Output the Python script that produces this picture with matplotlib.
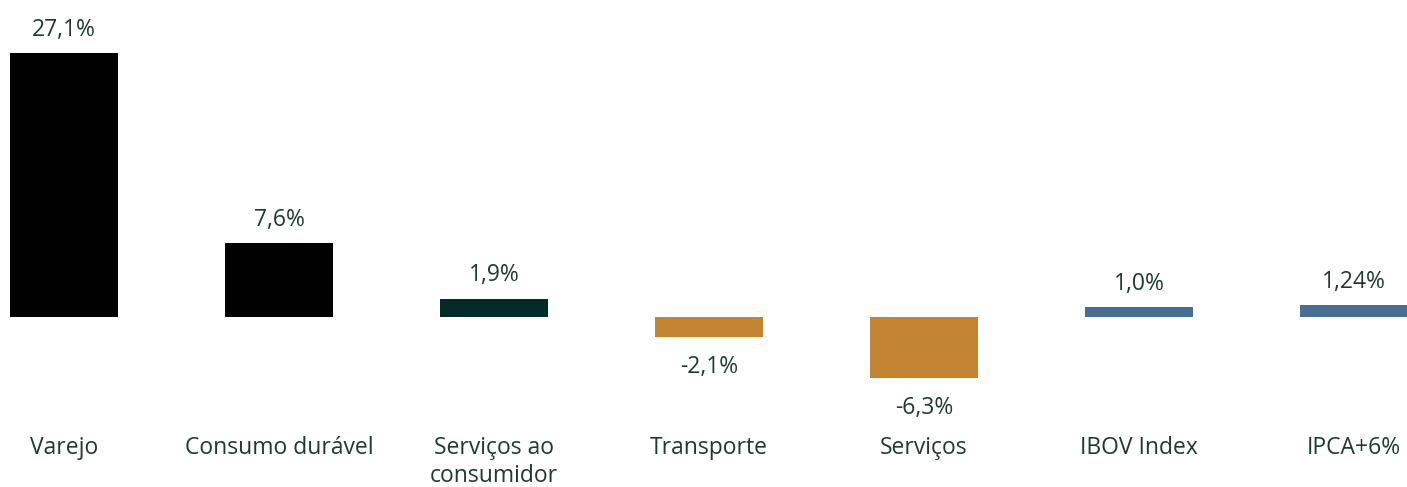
import numpy as np
import matplotlib.pyplot as plt

plt.rcParams['font.family'] = ['Open Sans', 'DejaVu Sans']

categorias = ["Varejo", "Consumo durável", "Serviços ao\nconsumidor", "Transporte",
              "Serviços", "IBOV Index", "IPCA+6%"]
valores = [27.1, 7.6, 1.9, -2.1, -6.3, 1.0, 1.24]
rotulos = ["27,1%", "7,6%", "1,9%", "-2,1%", "-6,3%", "1,0%", "1,24%"]
cores = ["#000000", "#000000", "#022b27", "#c38434", "#c38434", "#466f93", "#466f93"]

txt_cor = "#1f3a33"

fig = plt.figure(figsize=(14.07, 4.87), dpi=100)
ax = fig.add_axes([0, 0, 1, 1])
x = np.arange(len(valores))
ax.bar(x, valores, width=0.502, color=cores)

for i, v in enumerate(valores):
    if v >= 0:
        ax.text(i, v + 2.4, rotulos[i], ha='center', va='center', fontsize=16.5, color=txt_cor)
    else:
        ax.text(i, v - 3.0, rotulos[i], ha='center', va='center', fontsize=16.5, color=txt_cor)
    # rótulos das categorias, uma linha por vez
    for k, linha in enumerate(categorias[i].split("\n")):
        ax.text(i, -13.4 - k * 2.9, linha, ha='center', va='center', fontsize=16.5,
                color=txt_cor)

ax.set_xlim(-0.298, 6.247)
ax.set_ylim(-17.45, 32.55)
ax.axis('off')
fig.savefig("out.png")
